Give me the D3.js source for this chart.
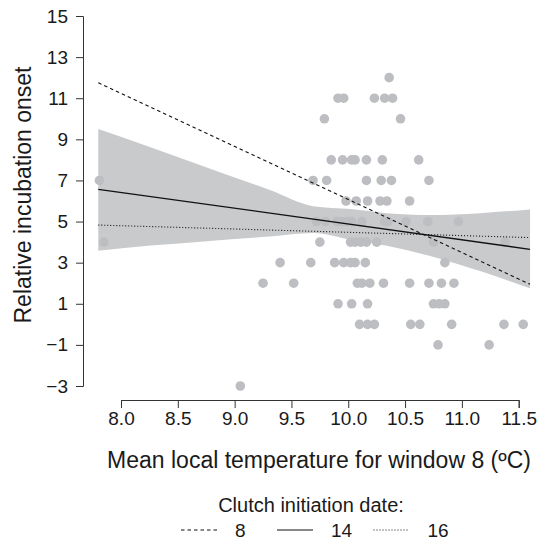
<!DOCTYPE html>
<html>
<head>
<meta charset="utf-8">
<script src="https://cdn.jsdelivr.net/npm/d3@7"></script>
<style>
  body { margin: 0; background: #fff; }
  text { font-family: "Liberation Sans", Arial, sans-serif; fill: #1a1a1a; }
</style>
</head>
<body>
<div id="main"></div>
<script>
const W = 541, H = 543;

// axis ticks
const xTicks = [8.0, 8.5, 9.0, 9.5, 10.0, 10.5, 11.0, 11.5];
const yTicks = [-3, -1, 1, 3, 5, 7, 9, 11, 13, 15];

// observed nests: temperature (x) and relative incubation onset (y)
const tempX = [
  10.36,
  9.91, 9.96, 10.23, 10.32, 10.39,
  9.79, 10.46,
  9.85, 9.95, 10.03, 10.06, 10.16, 10.30, 10.62,
  7.81, 9.69, 9.81, 10.16, 10.29, 10.38, 10.71,
  9.98, 10.07, 10.17, 10.28, 10.34, 10.54,
  9.72, 9.80, 9.90, 9.94, 9.99, 10.03, 10.12, 10.32, 10.35, 10.51, 10.70, 10.97,
  7.85, 9.75, 10.02, 10.06, 10.11, 10.16, 10.25, 10.75, 11.38,
  9.40, 9.67, 9.88, 9.96, 10.02, 10.06, 10.15, 10.85,
  9.25, 9.52, 10.08, 10.12, 10.19, 10.31, 10.54, 10.71, 10.82, 10.93,
  9.91, 10.03, 10.17, 10.75, 10.80, 10.85,
  10.10, 10.17, 10.23, 10.55, 10.63, 10.91, 11.37, 11.54,
  10.79, 11.24,
  9.05
];
const onsetY = [
  12,
  11, 11, 11, 11, 11,
  10, 10,
  8, 8, 8, 8, 8, 8, 8,
  7, 7, 7, 7, 7, 7, 7,
  6, 6, 6, 6, 6, 6,
  5, 5, 5, 5, 5, 5, 5, 5, 5, 5, 5, 5,
  4, 4, 4, 4, 4, 4, 4, 4, 4,
  3, 3, 3, 3, 3, 3, 3, 3,
  2, 2, 2, 2, 2, 2, 2, 2, 2, 2,
  1, 1, 1, 1, 1, 1,
  0, 0, 0, 0, 0, 0, 0, 0,
  -1, -1,
  -3
];

// model predictions for three clutch initiation dates
const fitX = [7.8, 11.6];
const fitDate8 = [11.75, 1.95];
const fitDate14 = [6.57, 3.65];
const fitDate16 = [4.83, 4.22];

// confidence band around the date-14 fit
const bandX = [7.80, 8.26, 8.70, 9.31, 9.69, 10.02, 10.34, 10.72, 11.16, 11.60];
const bandUpper = [9.50, 8.61, 7.74, 6.53, 5.75, 5.61, 5.41, 5.32, 5.41, 5.59];
const bandLower = [3.58, 3.83, 4.02, 4.27, 4.44, 4.12, 3.82, 3.33, 2.59, 1.75];

const legendDates = ["8", "14", "16"];
const legendDash = ["3.5,3", null, "1,2"];

const x = d3.scaleLinear().domain([8.0, 11.5]).range([121, 518.7]);
const y = d3.scaleLinear().domain([-3, 15]).range([386, 16]);

const svg = d3.select("#main").append("svg")
  .attr("width", W).attr("height", H);

svg.append("rect").attr("width", W).attr("height", H).attr("fill", "#fff");

// band
const band = d3.area()
  .x((d, i) => x(bandX[i]))
  .y0((d, i) => y(bandLower[i]))
  .y1((d, i) => y(bandUpper[i]))
  .curve(d3.curveMonotoneX);
svg.append("path")
  .datum(bandX)
  .attr("d", band)
  .attr("fill", "#c9cacc");

// points
svg.append("g")
  .selectAll("circle")
  .data(tempX)
  .enter()
  .append("circle")
  .attr("cx", (d) => x(d))
  .attr("cy", (d, i) => y(onsetY[i]))
  .attr("r", 4.8)
  .attr("fill", "#bdbec1");

// fitted lines
const line = d3.line().x((d, i) => x(fitX[i])).y((d) => y(d));
const fits = [fitDate8, fitDate14, fitDate16];
fits.forEach(function(f, k) {
  svg.append("path")
    .datum(f)
    .attr("d", line)
    .attr("fill", "none")
    .attr("stroke", "#111")
    .attr("stroke-width", k === 1 ? 1.3 : 1.1)
    .attr("stroke-dasharray", legendDash[k]);
});

// axes
const xAxis = svg.append("g")
  .attr("transform", "translate(0,400)")
  .call(d3.axisBottom(x).tickValues(xTicks).tickFormat(d3.format(".1f"))
          .tickSizeOuter(0).tickSize(8).tickPadding(4));
const yAxis = svg.append("g")
  .attr("transform", "translate(83,0)")
  .call(d3.axisLeft(y).tickValues(yTicks)
          .tickFormat((d) => (d < 0 ? "\u2212" + Math.abs(d) : d))
          .tickSizeOuter(0).tickSize(7).tickPadding(8));
[xAxis, yAxis].forEach(function(a) {
  a.select(".domain").attr("stroke", "#333");
  a.selectAll(".tick line").attr("stroke", "#333");
  a.selectAll(".tick text")
    .attr("font-size", 19)
    .style("font-family", "'Liberation Sans', Arial, sans-serif")
    .attr("fill", "#1a1a1a");
});

// titles
svg.append("text")
  .attr("x", 319).attr("y", 468)
  .attr("text-anchor", "middle")
  .attr("font-size", 23)
  .text("Mean local temperature for window 8 (\u00baC)");

svg.append("text")
  .attr("transform", "translate(31,195) rotate(-90)")
  .attr("text-anchor", "middle")
  .attr("font-size", 23)
  .text("Relative incubation onset");

// legend
svg.append("text")
  .attr("x", 311).attr("y", 512)
  .attr("text-anchor", "middle")
  .attr("font-size", 20)
  .text("Clutch initiation date:");

const legX = [181, 277, 373.5];
const leg = svg.append("g");
legendDates.forEach(function(lab, k) {
  leg.append("line")
    .attr("x1", legX[k]).attr("x2", legX[k] + 36)
    .attr("y1", 530).attr("y2", 530)
    .attr("stroke", "#111")
    .attr("stroke-width", 1.1)
    .attr("stroke-dasharray", legendDash[k]);
  leg.append("text")
    .attr("x", legX[k] + 54).attr("y", 537)
    .attr("font-size", 19)
    .text(lab);
});
</script>
</body>
</html>
